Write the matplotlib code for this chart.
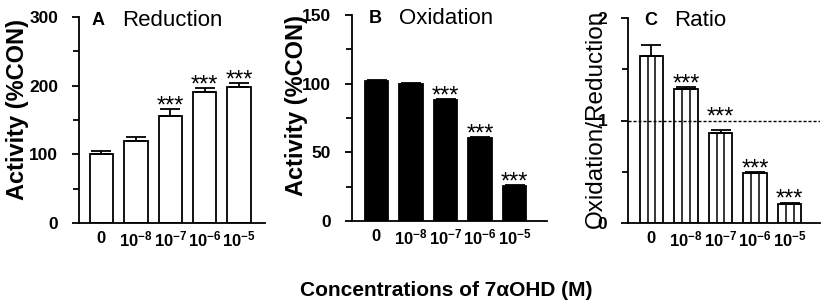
import matplotlib
matplotlib.use("Agg")
import matplotlib.pyplot as plt
from matplotlib.ticker import MultipleLocator

plt.rcParams["font.family"] = ["Liberation Sans", "DejaVu Sans"]
plt.rcParams["mathtext.fontset"] = "custom"
plt.rcParams["mathtext.rm"] = "Liberation Sans"
plt.rcParams["mathtext.bf"] = "Liberation Sans:bold"

# ---- data ----
conc_labels = ["0", "10^{-8}", "10^{-7}", "10^{-6}", "10^{-5}"]

reduction = [100, 120, 156, 191, 198]
reduction_err = [5, 5, 10, 6, 6]
reduction_sig = [False, False, True, True, True]

oxidation = [102, 100, 88, 60.5, 25.5]
oxidation_err = [1, 0.6, 0.8, 0.7, 0.6]
oxidation_sig = [False, False, True, True, True]

ratio = [1.63, 1.31, 0.88, 0.49, 0.19]
ratio_err = [0.11, 0.02, 0.03, 0.01, 0.01]
ratio_sig = [False, True, True, True, True]

FIG_W, FIG_H = 829, 307
BAR_W = 0.68
LW = 1.3


def px_rect(left, right, bottom, top):
    """Axes rectangle from pixel coordinates (origin top-left)."""
    return [left / FIG_W, (FIG_H - bottom) / FIG_H,
            (right - left) / FIG_W, (bottom - top) / FIG_H]


def draw_panel(ax, values, errors, sig, ylim, major, minor, xlim,
               facecolor="white", stripes=False, ref_line=None, star_clear=None):
    x = list(range(len(values)))
    ax.bar(x, values, width=BAR_W, color=facecolor, edgecolor="black",
           linewidth=LW, zorder=2)
    if stripes:
        # vertical stripes inside the ratio bars
        for xi, v in zip(x, values):
            ax.vlines([xi - BAR_W / 6, xi + BAR_W / 6], 0, v,
                      color="black", linewidth=1.1, zorder=2.5)
    ax.errorbar(x, values, yerr=[[0] * len(errors), errors], fmt="none",
                ecolor="black", elinewidth=LW, capsize=7, capthick=LW, zorder=3)
    if ref_line is not None:
        ax.axhline(ref_line, color="black", linestyle=(0, (2.2, 1.4)),
                   linewidth=1.0, zorder=4)

    for xi, v, e, s in zip(x, values, errors, sig):
        if not s:
            continue
        top = v + e
        # lift the stars over the reference line when they would cross it
        if ref_line is not None and top < ref_line < top + star_clear:
            top = ref_line
        ax.annotate("***", (xi, top), xytext=(0, -2.5), textcoords="offset points",
                    ha="center", va="baseline", fontsize=17)

    ax.set_xlim(*xlim)
    ax.set_ylim(*ylim)
    ax.yaxis.set_major_locator(MultipleLocator(major))
    ax.yaxis.set_minor_locator(MultipleLocator(minor))
    ax.set_xticks(x)
    ax.set_xticklabels([r"$\mathbf{%s}$" % c for c in conc_labels])

    for side in ("top", "right"):
        ax.spines[side].set_visible(False)
    for side in ("left", "bottom"):
        ax.spines[side].set_linewidth(LW)
    ax.tick_params(axis="x", length=0, pad=5, labelsize=12)
    ax.tick_params(axis="y", which="major", length=5, width=LW, pad=10,
                   labelsize=12.5)
    ax.tick_params(axis="y", which="minor", length=4, width=LW)
    for lab in ax.get_yticklabels():
        lab.set_fontweight("bold")


fig = plt.figure(figsize=(FIG_W / 100, FIG_H / 100), dpi=100)

# ---- A: reduction ----
ax_a = fig.add_axes(px_rect(79, 265, 223, 17))
draw_panel(ax_a, reduction, reduction_err, reduction_sig, (0, 300), 100, 50,
           (-0.65, 4.75))
ax_a.set_ylabel("Activity (%CON)", fontsize=17, fontweight="bold")
ax_a.yaxis.set_label_coords(-0.27, 0.55)
ax_a.text(0.10, 0.985, "A", transform=ax_a.transAxes, fontsize=13,
          fontweight="bold", ha="center", va="center")
ax_a.text(0.23, 0.985, "Reduction", transform=ax_a.transAxes, fontsize=16,
          ha="left", va="center")

# ---- B: oxidation ----
ax_b = fig.add_axes(px_rect(352, 547, 221, 15))
draw_panel(ax_b, oxidation, oxidation_err, oxidation_sig, (0, 150), 50, 25,
           (-0.71, 4.94), facecolor="black")
ax_b.set_ylabel("Activity (%CON)", fontsize=17, fontweight="bold")
ax_b.yaxis.set_label_coords(-0.225, 0.56)
ax_b.text(0.12, 0.985, "B", transform=ax_b.transAxes, fontsize=13,
          fontweight="bold", ha="center", va="center")
ax_b.text(0.24, 0.985, "Oxidation", transform=ax_b.transAxes, fontsize=16,
          ha="left", va="center")

# ---- C: ratio ----
ax_c = fig.add_axes(px_rect(628, 820, 223, 18))
draw_panel(ax_c, ratio, ratio_err, ratio_sig, (0, 2), 1, 0.5,
           (-0.68, 4.88), stripes=True, ref_line=1, star_clear=0.2)
ax_c.set_ylabel("Oxidation/Reduction", fontsize=17.5)
ax_c.yaxis.set_label_coords(-0.11, 0.51)
ax_c.text(0.12, 0.99, "C", transform=ax_c.transAxes, fontsize=13,
          fontweight="bold", ha="center", va="center")
ax_c.text(0.24, 0.99, "Ratio", transform=ax_c.transAxes, fontsize=16,
          ha="left", va="center")

fig.text(446 / FIG_W, 1 - 290 / FIG_H, "Concentrations of 7\u03b1OHD (M)",
         fontsize=15, fontweight="bold", ha="center", va="center")

fig.savefig("out.png", dpi=100)
